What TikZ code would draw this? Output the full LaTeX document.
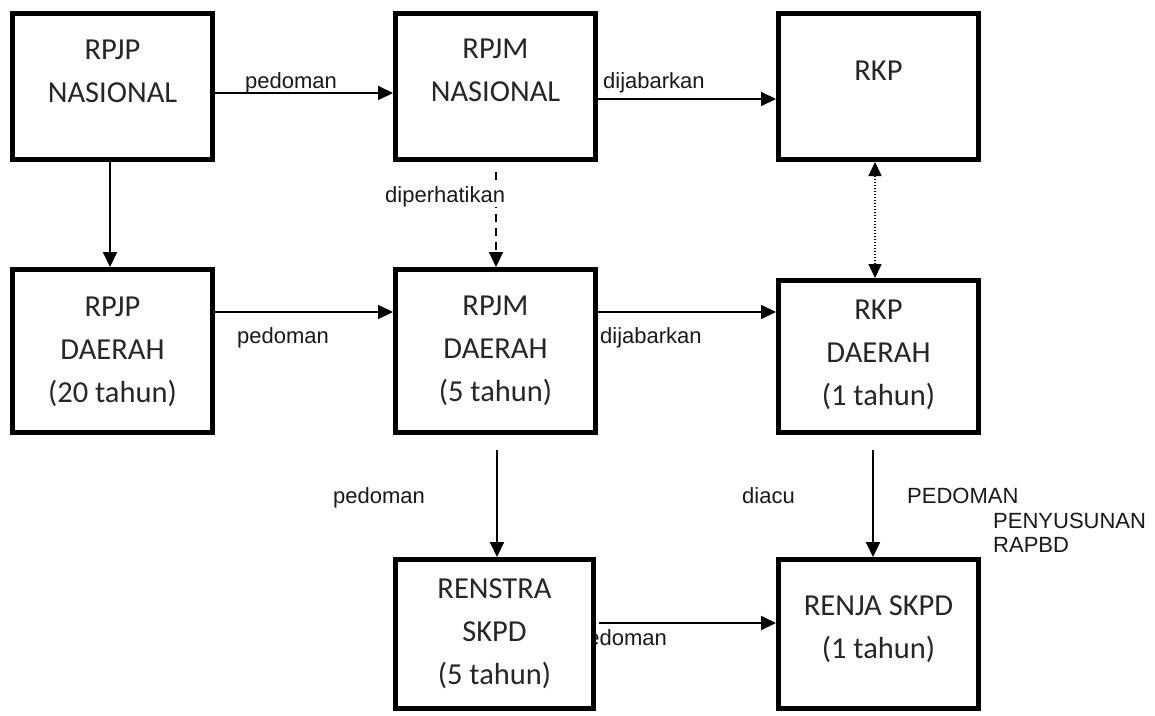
\documentclass[tikz,border=0pt]{standalone}
\usepackage{fontspec}
\setmainfont{Carlito}
\newfontfamily\arialfont{Liberation Sans}
\usetikzlibrary{arrows.meta,calc}
\tikzset{
  box/.style={draw=black, line width=5pt, fill=white, inner sep=0pt, outer sep=2.5pt, minimum width=200pt},
  boxtext/.style={font=\fontsize{30.5}{43}\selectfont, align=center, anchor=base, inner sep=0pt, text=black!85},
  lbl/.style={font=\arialfont\fontsize{22}{26}\selectfont, anchor=base west, inner sep=0pt, text=black!90},
  conn/.style={line width=2pt, -{Triangle[length=15pt,width=14pt]}},
  dashconn/.style={conn, dash pattern=on 8pt off 6pt},
  dotconn/.style={line width=1.5pt, dash pattern=on 1.5pt off 1.5pt, {Triangle[length=14pt,width=13pt]}-{Triangle[length=14pt,width=13pt]}}
}
\begin{document}
\begin{tikzpicture}[x=1pt,y=-1pt]
\useasboundingbox[fill=white] (0,0) rectangle (1155,715);
% label partly hidden by box
\node[lbl] (l10) at (575,645) {pedoman};
% boxes
\node[box, minimum height=146pt] (rpjpn) at (112.5,86.5) {};
\node[box, minimum height=146pt] (rpjmn) at (495.5,86.5) {};
\node[box, minimum height=146pt] (rkp) at (878.5,86.5) {};
\node[box, minimum height=163pt] (rpjpd) at (112.5,351) {};
\node[box, minimum height=163pt] (rpjmd) at (495.5,351) {};
\node[box, minimum height=152pt] (rkpd) at (878.5,356.5) {};
\node[box, minimum height=149pt, minimum width=198pt] (renstra) at (494.5,634) {};
\node[box, minimum height=149pt] (renja) at (878.5,634) {};
% box texts (anchor = baseline of last line)
\node[boxtext] (t1) at (112.5,102) {RPJP\\NASIONAL};
\node[boxtext] (t2) at (495.5,101) {RPJM\\NASIONAL};
\node[boxtext] (t3) at (878.5,80) {RKP};
\node[boxtext] (t4) at (112.5,402) {RPJP\\DAERAH\\(20 tahun)};
\node[boxtext] (t5) at (495.5,401) {RPJM\\DAERAH\\(5 tahun)};
\node[boxtext] (t6) at (878.5,405) {RKP\\DAERAH\\(1 tahun)};
\node[boxtext] (t7) at (494.5,684) {RENSTRA\\SKPD\\(5 tahun)};
\node[boxtext] (t8) at (878.5,658) {RENJA SKPD\\(1 tahun)};
% connectors
\draw[conn] ([yshift=-6.5pt]rpjpn.east) -- ([yshift=-6.5pt]rpjpn.east -| rpjmn.west);
\draw[conn] ([yshift=-12.5pt]rpjmn.east) -- ([yshift=-12.5pt]rpjmn.east -| rkp.west);
\draw[conn] ([xshift=-2.5pt]rpjpn.south) -- ([xshift=-2.5pt]rpjpd.north);
\draw[dashconn, shorten <=10pt] ([xshift=0.5pt]rpjmn.south) -- ([xshift=0.5pt]rpjmd.north);
\draw[dotconn] ([xshift=-3.5pt]rkp.south) -- ([xshift=-3.5pt]rkpd.north);
\draw[conn] ([yshift=39pt]rpjpd.east) -- ([yshift=39pt]rpjpd.east -| rpjmd.west);
\draw[conn] ([yshift=39pt]rpjmd.east) -- ([yshift=39pt]rpjmd.east -| rkpd.west);
\draw[conn, shorten <=15pt] ([xshift=1.5pt]rpjmd.south) -- ([xshift=1.5pt]rpjmd.south |- renstra.north);
\draw[conn, shorten <=15pt] ([xshift=-5.5pt]rkpd.south) -- ([xshift=-5.5pt]renja.north);
\draw[conn, shorten <=3pt] ([yshift=11pt]renstra.east) -- ([yshift=11pt]renstra.east -| renja.west);
% labels
\node[lbl] (l1) at (245,88) {pedoman};
\node[lbl] (l2) at (603,88) {dijabarkan};
\node[lbl, fill=white] (l3) at (385,202) {diperhatikan};
\node[lbl] (l4) at (237,343) {pedoman};
\node[lbl] (l5) at (600,343) {dijabarkan};
\node[lbl] (l6) at (333,503) {pedoman};
\node[lbl] (l7) at (742,503) {diacu};
\node[lbl] (l8) at (907,503) {PEDOMAN};
\node[lbl] (l9) at (993,528) {PENYUSUNAN};
\node[lbl] (l11) at (993,552) {RAPBD};
\end{tikzpicture}
\end{document}
